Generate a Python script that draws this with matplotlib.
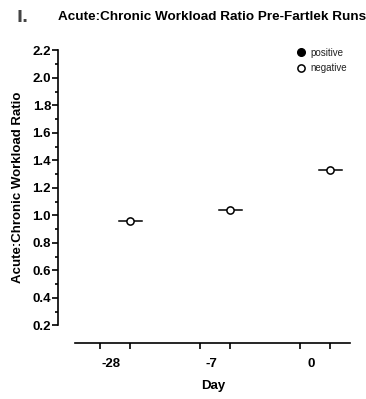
# ACWR before fartlek runs, Prism-like dot plot
import numpy as np
import matplotlib.pyplot as plt

plt.rcParams['font.family'] = ['Liberation Sans', 'DejaVu Sans']

days = ['-28', '-7', '0']
positive = [np.nan, np.nan, np.nan]
negative = [0.96, 1.04, 1.33]

centers = np.arange(len(days))
off = 0.15

fig = plt.figure(figsize=(3.66, 3.99), dpi=100)
ax = fig.add_axes([0.1585, 0.1847, 0.7978, 0.6893])

# positive group (no data) and negative group
ax.plot(centers - off, positive, 'o', color='black', markersize=5.5, label='positive')
ax.plot(centers + off, negative, 'o', mfc='white', mec='black', mew=1.1,
        markersize=5.2, label='negative', zorder=3)
for x, m in zip(centers + off, negative):
    ax.plot([x - 0.115, x + 0.115], [m, m], color='black', lw=1.1, zorder=2)

ax.set_xlim(-0.57, 2.35)
ax.set_ylim(0.2, 2.2)

ax.spines['top'].set_visible(False)
ax.spines['right'].set_visible(False)
ax.spines['left'].set_linewidth(1.2)
ax.spines['bottom'].set_linewidth(1.2)
ax.spines['bottom'].set_position(('outward', 12.5))
ax.spines['bottom'].set_bounds(-0.4, 2.35)

ax.set_yticks(np.arange(0.2, 2.21, 0.2))
ax.set_yticks(np.arange(0.3, 2.2, 0.2), minor=True)
ax.set_yticklabels(['%.1f' % v for v in np.arange(0.2, 2.21, 0.2)],
                   fontweight='bold', fontsize=9.5)
ax.tick_params(axis='y', which='major', length=4, width=1.2, pad=1)
ax.tick_params(axis='y', which='minor', length=2.5, width=1.2)

pairs = np.sort(np.concatenate([centers - off, centers + off]))
ax.set_xticks(pairs)
ax.set_xticklabels([''] * len(pairs))
ax.set_xticks(centers - 0.04, days, minor=True)
ax.tick_params(axis='x', which='major', length=4.5, width=1.2)
ax.tick_params(axis='x', which='minor', length=0, pad=11, labelsize=9.5)
for t in ax.get_xticklabels(minor=True):
    t.set_fontweight('bold')

ax.set_xlabel('Day', fontweight='bold', fontsize=9.5)
ax.xaxis.set_label_coords(0.53, -0.2)
ax.set_ylabel('Acute:Chronic Workload Ratio', fontweight='bold', fontsize=9.5, labelpad=6)

fig.text(0.158, 0.958, 'Acute:Chronic Workload Ratio Pre-Fartlek Runs',
         fontweight='bold', fontsize=9.7, va='center')
fig.text(0.044, 0.955, 'I.', fontweight='bold', fontsize=11.5, color='#444444',
         va='center', family='Liberation Sans Narrow')

ax.legend(loc='upper right', bbox_to_anchor=(1.01, 1.03), frameon=False,
          fontsize=7, handletextpad=0.45, labelspacing=0.55, handlelength=1.0,
          borderaxespad=0.2, labelcolor='#222222')

fig.savefig('out.png', dpi=100)
